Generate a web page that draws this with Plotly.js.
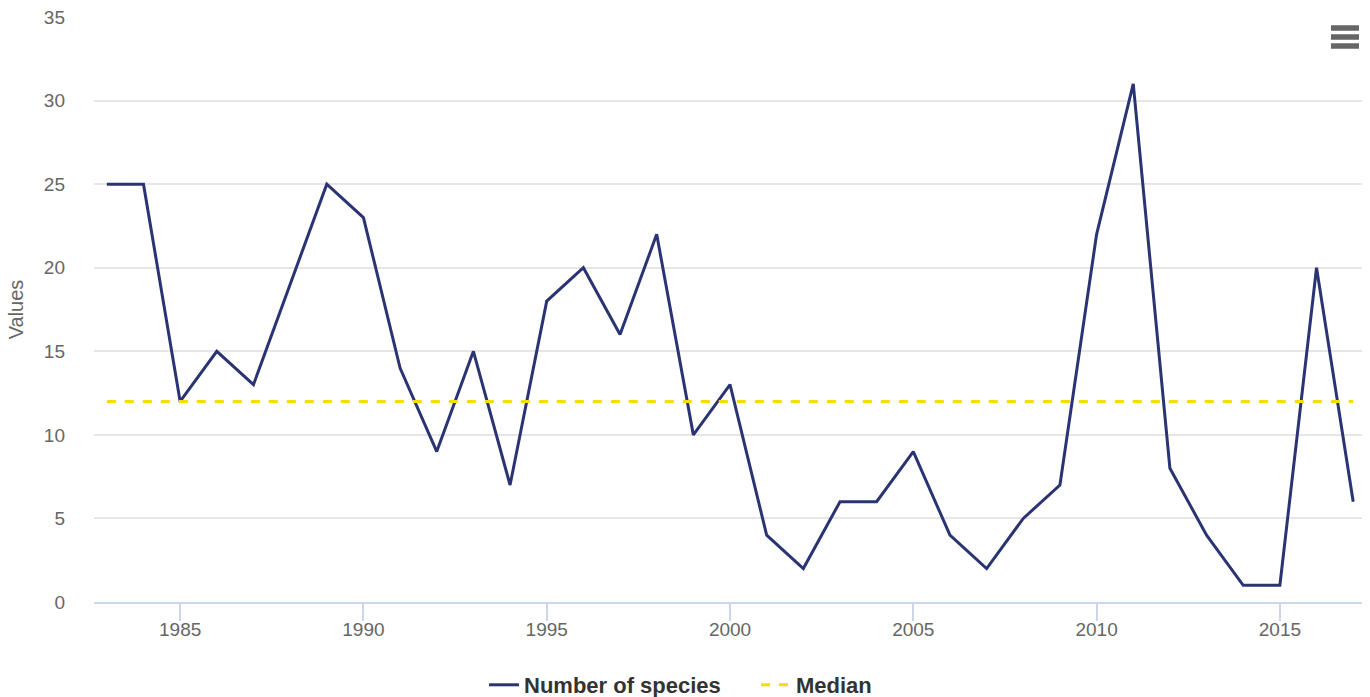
<!DOCTYPE html>
<html><head><meta charset="utf-8">
<script src="https://cdn.plot.ly/plotly-3.0.1.min.js"></script>
<style>html,body{margin:0;padding:0;background:#fff}#chart{width:1370px;height:697px}</style>
</head><body><div id="chart"></div>
<script>
const years = [1983,1984,1985,1986,1987,1988,1989,1990,1991,1992,1993,1994,1995,1996,1997,1998,1999,2000,2001,2002,2003,2004,2005,2006,2007,2008,2009,2010,2011,2012,2013,2014,2015,2016,2017];
const species = [25,25,12,15,13,19,25,23,14,9,15,7,18,20,16,22,10,13,4,2,6,6,9,4,2,5,7,22,31,8,4,1,1,20,6];
const medianValue = 12;
const medianLine = years.map(() => medianValue);
const xTicks = [1985,1990,1995,2000,2005,2010,2015];
const yTicks = [0,5,10,15,20,25,30,35];

const L = 94, R = 1362, T = 17, B = 602;
const px = x => (x - L) / (R - L);
const py = y => (B - y) / (B - T);
const menuShapes = [28, 37, 46].map(y => ({
  type: 'line', xref: 'paper', yref: 'paper',
  x0: px(1331), x1: px(1359), y0: py(y), y1: py(y),
  line: {color: '#666666', width: 5.5}
}));

const traces = [
  {x: years, y: species, name: 'Number of species', mode: 'lines',
   line: {color: '#2b3473', width: 3}},
  {x: years, y: medianLine, name: 'Median', mode: 'lines',
   line: {color: '#f7dc00', width: 3, dash: 'dash'}}
];
const layout = {
  width: 1370, height: 697,
  margin: {l: L, r: 1370 - R, t: T, b: 697 - B, autoexpand: false},
  paper_bgcolor: '#fff', plot_bgcolor: '#fff',
  font: {family: 'Liberation Sans, Arial, sans-serif', color: '#666666', size: 19},
  xaxis: {range: [1982.65, 2017.24], tickvals: xTicks, ticktext: xTicks.map(String),
    showgrid: false, zeroline: false, showline: true, linecolor: '#ccd6eb', linewidth: 2,
    ticks: 'outside', ticklen: 17, tickcolor: '#ccd6eb', tickwidth: 2, ticklabelstandoff: -8,
    tickfont: {size: 19, color: '#666666'}},
  yaxis: {range: [0, 35], tickvals: yTicks, showgrid: true, gridcolor: '#e6e6e6', gridwidth: 1.5,
    zeroline: false, ticks: '', ticklabelstandoff: 28,
    tickfont: {size: 19, color: '#666666'},
    title: {text: 'Values', font: {size: 20, color: '#666666'}, standoff: 14}},
  showlegend: true,
  legend: {orientation: 'h', x: px(484), xanchor: 'left', y: py(685), yanchor: 'middle',
    font: {size: 22, color: '#333333', family: 'Liberation Sans, Arial, sans-serif', weight: 'bold'},
    itemwidth: 30, entrywidth: 227, traceorder: 'normal'},
  shapes: menuShapes
};
Plotly.newPlot('chart', traces, layout, {displayModeBar: false, responsive: false});
</script></body></html>
